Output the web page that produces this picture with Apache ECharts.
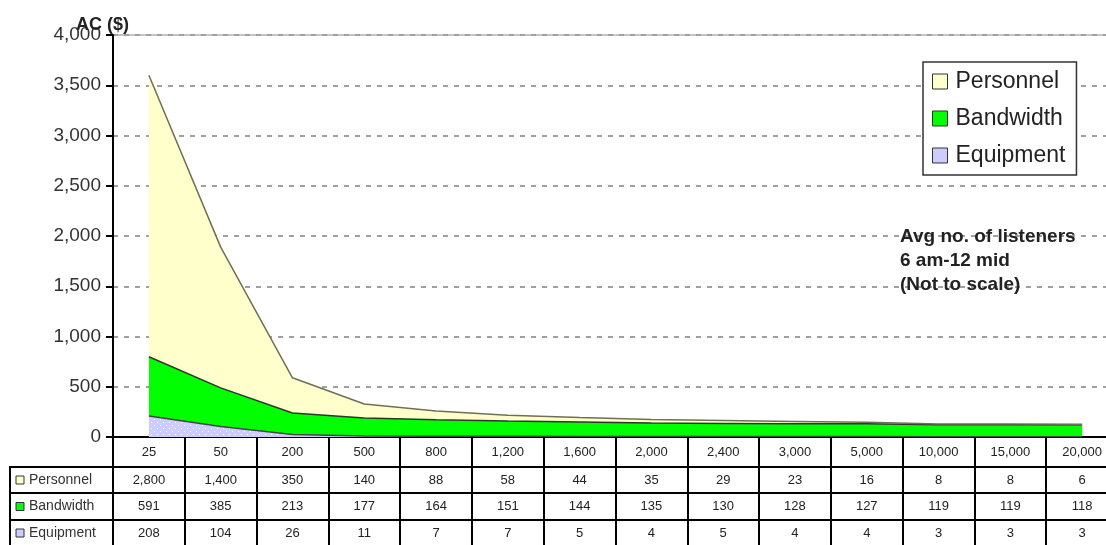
<!DOCTYPE html>
<html>
<head>
<meta charset="utf-8">
<script src="https://cdn.jsdelivr.net/npm/echarts@6/dist/echarts.min.js"></script>
<style>
html,body{margin:0;padding:0;background:#fff;overflow:hidden;width:1106px;height:545px;}
#c{width:1120px;height:545px;}
</style>
</head>
<body>
<div id="c"></div>
<script>
// ---- data ----
const categories = [25, 50, 200, 500, 800, 1200, 1600, 2000, 2400, 3000, 5000, 10000, 15000, 20000];
const personnel = [2800, 1400, 350, 140, 88, 58, 44, 35, 29, 23, 16, 8, 8, 6];
const bandwidth = [591, 385, 213, 177, 164, 151, 144, 135, 130, 128, 127, 119, 119, 118];
const equipment = [208, 104, 26, 11, 7, 7, 5, 4, 5, 4, 4, 3, 3, 3];
const yTicks = { min: 0, max: 4000, interval: 500 };
const seriesNames = ['Personnel', 'Bandwidth', 'Equipment'];
const annotation = ['Avg no. of listeners', '6 am-12 mid', '(Not to scale)'];
const yTitle = 'AC ($)';

const FONT = 'Liberation Sans, Arial, sans-serif';
const fmt = v => Number(v).toLocaleString('en-US');
const colors = { Personnel: '#ffffcc', Bandwidth: '#00ff00', Equipment: '#ccccff' };

// dotted pattern for equipment
const pc = document.createElement('canvas');
pc.width = 6; pc.height = 6;
const pctx = pc.getContext('2d');
pctx.fillStyle = '#ccccff'; pctx.fillRect(0, 0, 6, 6);
pctx.fillStyle = '#ffffff'; pctx.fillRect(1, 2, 1, 1); pctx.fillRect(4, 5, 1, 1);
const equipPattern = { image: pc, repeat: 'repeat' };

const chart = echarts.init(document.getElementById('c'));

function valueAxis(data, offset) {
  return {
    type: 'category', gridIndex: 0, position: 'bottom', offset: offset,
    data: data.map(fmt),
    axisLine: { show: true, lineStyle: { color: '#000', width: 2 } },
    axisTick: { show: false },
    axisLabel: { margin: 7, fontSize: 13, color: '#222', fontFamily: FONT, interval: 0 },
    splitLine: { show: false }
  };
}

const rowInfo = [
  { name: 'Personnel', y: 480 },
  { name: 'Bandwidth', y: 506.5 },
  { name: 'Equipment', y: 533 }
];
const graphics = [];
// left label column borders
graphics.push({ type: 'rect', shape: { x: 10, y: 467, width: 103, height: 90 },
  style: { fill: 'none', stroke: '#000', lineWidth: 2 }, z: 10 });
[493, 520].forEach(y => graphics.push({ type: 'line', shape: { x1: 10, y1: y, x2: 113, y2: y },
  style: { stroke: '#000', lineWidth: 2 }, z: 10 }));
rowInfo.forEach(r => {
  graphics.push({ type: 'rect', shape: { x: 16, y: r.y - 4, width: 8, height: 8 },
    style: { fill: colors[r.name], stroke: '#333', lineWidth: 1 }, z: 10 });
  graphics.push({ type: 'text', x: 29, y: r.y,
    style: { text: r.name, fontSize: 14, fontFamily: FONT, fill: '#333', verticalAlign: 'middle' }, z: 10 });
});
graphics.push({ type: 'text', x: 900, y: 225,
  style: { text: annotation.join('\n'), fontSize: 19, fontWeight: 'bold', fontFamily: FONT,
    fill: '#222', lineHeight: 24 }, z: 10 });

chart.setOption({
  animation: false,
  backgroundColor: '#fff',
  title: { text: yTitle, left: 71, top: 11,
    textStyle: { fontSize: 18, fontWeight: 'bold', fontFamily: FONT, color: '#222' } },
  grid: { left: 113, right: 2, top: 35, bottom: 108, show: true, borderColor: '#888', borderWidth: 1 },
  legend: {
    orient: 'vertical', left: 923, top: 62,
    data: seriesNames.map(n => ({ name: n, icon: 'rect',
      itemStyle: { color: colors[n], borderColor: '#333', borderWidth: 1 } })),
    itemWidth: 15, itemHeight: 15, itemGap: 14,
    backgroundColor: '#fff', borderColor: '#333', borderWidth: 1.5,
    padding: [8, 11, 8, 9],
    textStyle: { fontSize: 23, fontFamily: FONT, color: '#222', padding: [0, 0, 0, 3] },
    selectedMode: false
  },
  xAxis: [
    {
      type: 'category', gridIndex: 0, position: 'bottom', data: categories.map(fmt),
      boundaryGap: true,
      axisLine: { show: true, lineStyle: { color: '#000', width: 2 } },
      axisTick: { show: true, length: 110, interval: 0, lineStyle: { color: '#000', width: 2 } },
      axisLabel: { margin: 9, fontSize: 13, color: '#222', fontFamily: FONT, interval: 0 },
      splitLine: { show: false }
    },
    valueAxis(personnel, 30),
    valueAxis(bandwidth, 56),
    valueAxis(equipment, 83)
  ],
  yAxis: {
    type: 'value', min: yTicks.min, max: yTicks.max, interval: yTicks.interval,
    axisLine: { show: true, lineStyle: { color: '#000', width: 2 } },
    axisTick: { show: true, length: 7, lineStyle: { color: '#000', width: 2 } },
    axisLabel: { formatter: v => fmt(v), fontSize: 19, color: '#333', fontFamily: FONT, margin: 12 },
    splitLine: { show: true, lineStyle: { color: '#a0a0a0', width: 2, type: [5, 6] } }
  },
  graphic: graphics,
  series: [
    { name: 'Equipment', type: 'line', stack: 'total', data: equipment, symbol: 'none',
      itemStyle: { color: '#ccccff' },
      lineStyle: { color: '#444', width: 1.5 }, areaStyle: { color: equipPattern, opacity: 1 } },
    { name: 'Bandwidth', type: 'line', stack: 'total', data: bandwidth, symbol: 'none',
      itemStyle: { color: '#00ff00' },
      lineStyle: { color: '#333', width: 1.5 }, areaStyle: { color: '#00ff00', opacity: 1 } },
    { name: 'Personnel', type: 'line', stack: 'total', data: personnel, symbol: 'none',
      itemStyle: { color: '#ffffcc' },
      lineStyle: { color: '#6f6f55', width: 1.5 }, areaStyle: { color: '#ffffcc', opacity: 1 } }
  ]
});
</script>
</body>
</html>
